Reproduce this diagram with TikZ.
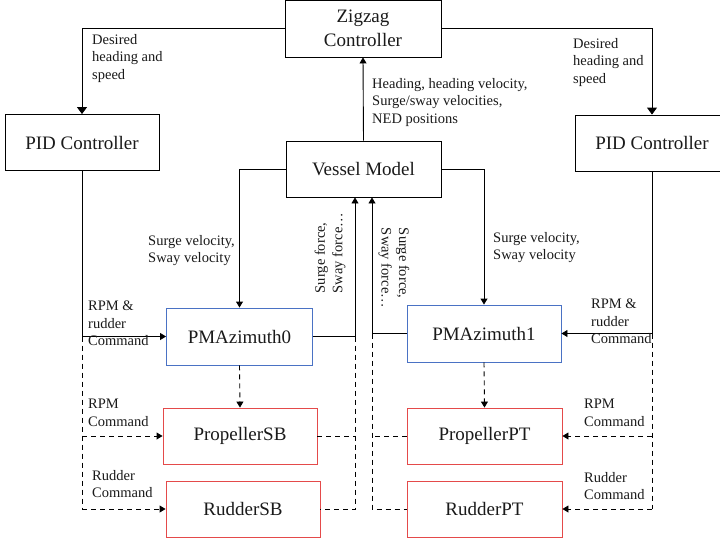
\documentclass[tikz,border=0pt]{standalone}
\usepackage{fontspec}
\setmainfont{Liberation Serif}
\usetikzlibrary{arrows.meta}
\definecolor{bblue}{HTML}{4A72C4}
\definecolor{rred}{HTML}{E44A4A}
\definecolor{txt}{HTML}{1A1A1A}
\tikzset{
  box/.style={draw=black, line width=0.9pt, minimum width=154pt, minimum height=56pt, inner sep=0pt,
    font=\fontsize{19}{23.5}\selectfont, text=txt, align=center},
  bluebox/.style={box, draw=bblue},
  redbox/.style={box, draw=rred},
  lbl/.style={font=\fontsize{14.5}{17.5}\selectfont, text=txt, align=left, inner sep=0pt, anchor=north west},
  conn/.style={line width=0.9pt, -{Triangle[length=6pt,width=7pt]}},
  bigconn/.style={line width=0.9pt, -{Triangle[length=7pt,width=10pt]}},
  plain/.style={line width=0.9pt},
  dconn/.style={line width=0.9pt, dashed, dash pattern=on 5pt off 4pt, -{Triangle[length=6pt,width=7pt]}},
  dplain/.style={line width=0.9pt, dashed, dash pattern=on 5pt off 4pt},
}
\begin{document}
\begin{tikzpicture}[x=1pt,y=-1pt]
\useasboundingbox (0,0) rectangle (720,544);
\clip (0,0) rectangle (720,544);
\fill[white] (0,0) rectangle (720,544);

\node[box, minimum width=156pt, minimum height=57pt] (zig) at (363,28.5) {Zigzag\\Controller};
\node[box] (pidl) at (82,142.5) {PID Controller};
\node[box] (pidr) at (652,143) {PID Controller};
\node[box, minimum width=155pt] (ves) at (363.5,169) {Vessel Model};
\node[bluebox, minimum width=146pt, minimum height=57pt] (pm0) at (239.5,336.5) {PMAzimuth0};
\node[bluebox, minimum height=57pt] (pm1) at (484,333.5) {PMAzimuth1};
\node[redbox] (psb) at (240,436) {PropellerSB};
\node[redbox] (rsb) at (243,509) {RudderSB};
\node[redbox, minimum width=155pt] (ppt) at (484.5,436) {PropellerPT};
\node[redbox, minimum width=155pt] (rpt) at (484.5,509) {RudderPT};

% top connectors
\draw[bigconn] (zig.west) -| (pidl.north);
\draw[bigconn] (zig.east) -| (pidr.north);
\draw[conn] (ves.north) -- (zig.south);
\draw[conn] (ves.west) -| (pm0.north);
\draw[conn] (ves.east) -| (pm1.north);

% coordinates
\coordinate (c0) at (355,336.5);
\coordinate (c1) at (372,333.5);
\coordinate (cl) at (82,336.5);
\coordinate (cr) at (652,333.5);

\draw[conn] (pm0.east) -- (c0) -- (c0 |- ves.south);
\draw[conn] (pm1.west) -- (c1) -- (c1 |- ves.south);
\draw[conn] (pidl.south) -- (cl) -- (pm0.west);
\draw[conn] (pidr.south) -- (cr) -- (pm1.east);

% dashed
\draw[dconn] (pm0.south) -- (psb.north);
\draw[dconn] (pm1.south) -- (ppt.north);
\draw[dplain] (cl) -- (cl |- rsb.west);
\draw[dconn] (cl |- rsb.west) -- (rsb.west);
\draw[dconn] (cl |- psb.west) -- (psb.west);
\draw[dplain] (cr) -- (cr |- rpt.east);
\draw[dconn] (cr |- rpt.east) -- (rpt.east);
\draw[dconn] (cr |- ppt.east) -- (ppt.east);
\draw[dplain] (c0) -- (c0 |- rsb.east) -- (rsb.east);
\draw[dplain] (psb.east) -- (c0 |- psb.east);
\draw[dplain] (c1) -- (c1 |- rpt.west) -- (rpt.west);
\draw[dplain] (ppt.west) -- (c1 |- ppt.west);

% labels
\node[lbl] (l1) at (92,34) {Desired\\heading and\\speed};
\node[lbl] (l2) at (573,38) {Desired\\heading and\\speed};
\node[lbl] (l3) at (372,78) {Heading, heading velocity,\\Surge/sway velocities,\\NED positions};
\node[lbl] (l4) at (148,235) {Surge velocity,\\Sway velocity};
\node[lbl] (l5) at (493,232) {Surge velocity,\\Sway velocity};
\node[lbl] (l6) at (88,301) {RPM \&\\rudder\\Command};
\node[lbl] (l7) at (591,299) {RPM \&\\rudder\\Command};
\node[lbl] (l8) at (88,399) {RPM\\Command};
\node[lbl] (l9) at (92,470) {Rudder\\Command};
\node[lbl] (l10) at (584,399) {RPM\\Command};
\node[lbl] (l11) at (584,472) {Rudder\\Command};
\node[lbl, anchor=center, rotate=90] (l12) at (330,253) {Surge force,\\Sway force…};
\node[lbl, anchor=center, rotate=-90] (l13) at (394,268) {Surge force,\\Sway force…};
\end{tikzpicture}
\end{document}
